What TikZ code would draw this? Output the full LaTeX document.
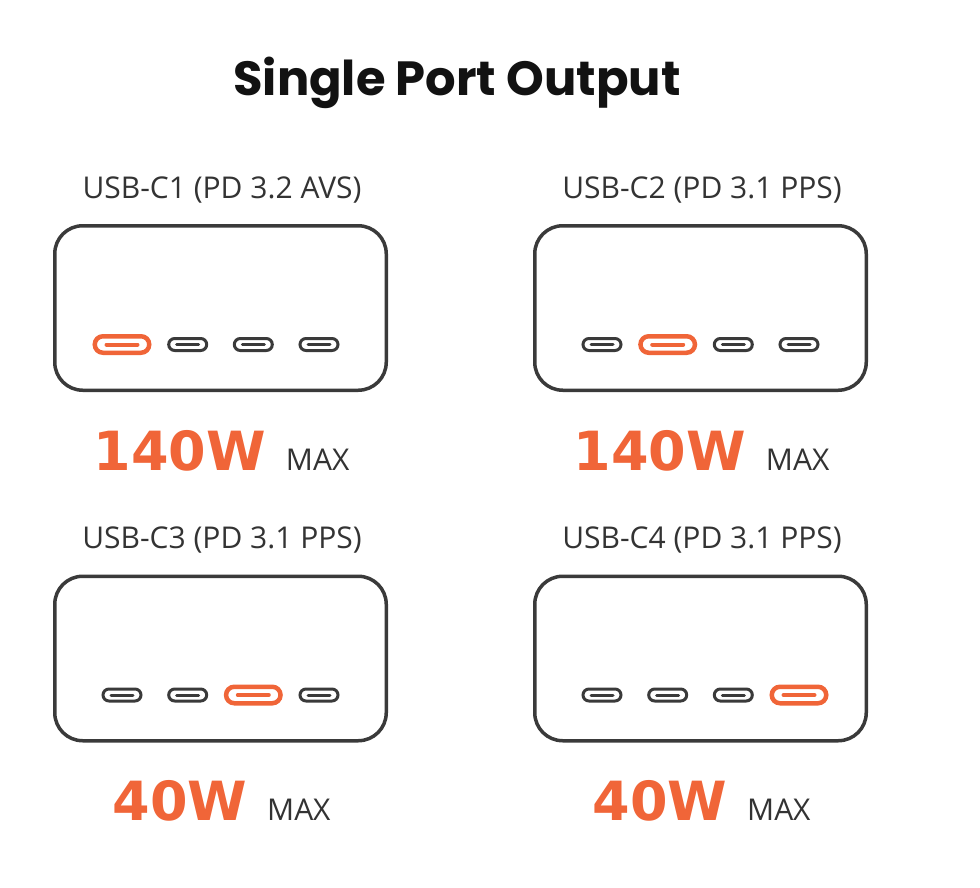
\documentclass[tikz,border=0pt]{standalone}
\usepackage{fontspec}
\setmainfont{Open Sans}
\newfontfamily\titlefont{Poppins}
\newfontfamily\wattfont{DejaVu Sans}
\usetikzlibrary{calc}

\definecolor{chgorange}{RGB}{240,101,56}
\definecolor{chggrey}{RGB}{58,58,58}
\definecolor{txtgrey}{RGB}{51,51,51}

\tikzset{
    charger/.style={draw=chggrey, line width=3.5pt, rounded corners=28pt,
        minimum width=331.5pt, minimum height=164.5pt, inner sep=0pt},
    portoff/.style={draw=chggrey, line width=3pt, rounded corners=6pt,
        minimum width=38pt, minimum height=12pt, inner sep=0pt},
    porton/.style={draw=chgorange, line width=4.5pt, rounded corners=8.25pt,
        minimum width=54.5pt, minimum height=16.5pt, inner sep=0pt},
    pinoff/.style={chggrey, line width=3pt, line cap=round},
    pinon/.style={chgorange, line width=4pt, line cap=round},
    portname/.style={text=txtgrey, font=\fontsize{30}{34}\selectfont, anchor=base, inner sep=0pt},
    watt/.style={anchor=base, inner sep=0pt}
}

\begin{document}
\begin{tikzpicture}[x=1pt, y=-1pt]

    % Canvas
    \useasboundingbox (0,0) rectangle (980,888);

    % Title
    \node[font=\titlefont\bfseries\fontsize{48}{52}\selectfont, text=black!93, anchor=base] (title) at (457,96) {Single Port Output};

    % Four chargers, one lit port each
    \foreach \n/\cx/\cy/\on/\spec/\w in {
        1/220.5/308/1/{PD 3.2 AVS}/140,
        2/700.5/308/2/{PD 3.1 PPS}/140,
        3/220.5/658.5/3/{PD 3.1 PPS}/40,
        4/700.5/658.5/4/{PD 3.1 PPS}/40}
    {
        \node[charger] (c\n) at (\cx,\cy) {};
        \node[portname] (l\n) at ($(c\n.north)+(1.5,-25.75)$) {USB-C\n{} (\spec)};

        % Ports along the bottom
        \foreach \i/\dx in {1/-98.5, 2/-32.8, 3/32.8, 4/98.5}
        {
            \ifnum\i=\on
                \node[porton] (p\n-\i) at ($(c\n.center)+(\dx,36.5)$) {};
                \draw[pinon] ([xshift=-15.5pt]p\n-\i.center) -- ([xshift=15.5pt]p\n-\i.center);
            \else
                \node[portoff] (p\n-\i) at ($(c\n.center)+(\dx,36.5)$) {};
                \draw[pinoff] ([xshift=-11pt]p\n-\i.center) -- ([xshift=11pt]p\n-\i.center);
            \fi
        }

        % Power rating
        \node[watt] (w\n) at ($(c\n.south)+(1,78)$)
            {{\wattfont\bfseries\fontsize{54}{60}\selectfont\color{chgorange}\w W}\hspace{20pt}{\color{txtgrey}\fontsize{30}{34}\selectfont MAX}};
    }

\end{tikzpicture}
\end{document}
